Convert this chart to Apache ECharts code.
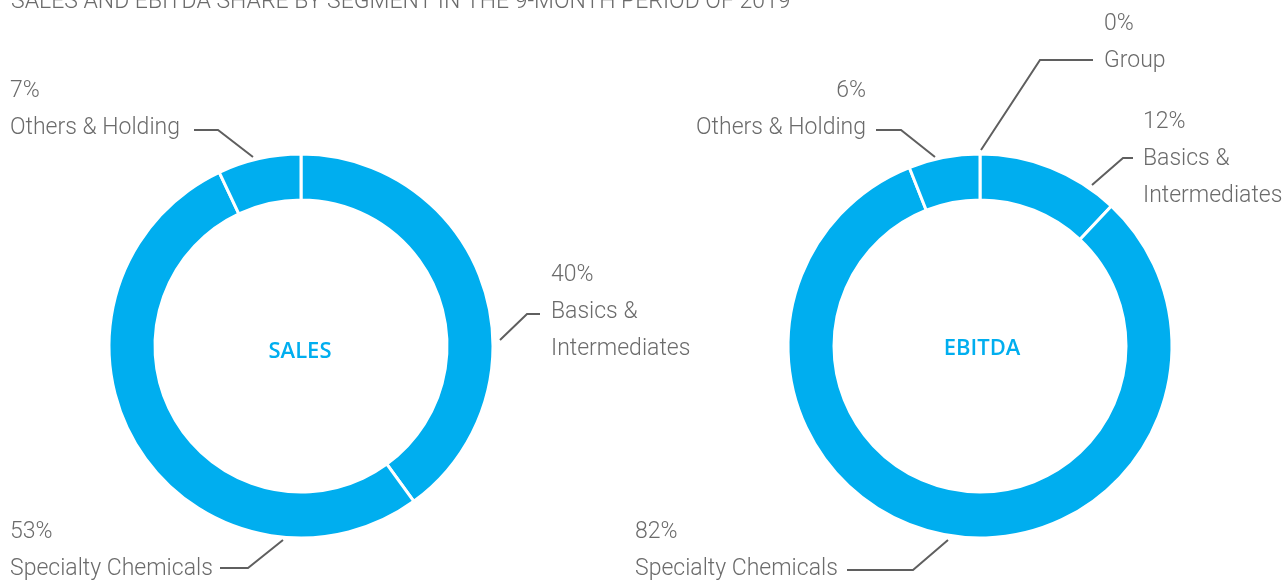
<!DOCTYPE html>
<html>
<head>
<meta charset="utf-8">
<script src="https://cdn.jsdelivr.net/npm/echarts@6/dist/echarts.min.js"></script>
<style>
  html, body { margin: 0; padding: 0; background: #fff; }
  #chart { width: 1285px; height: 582px; }
</style>
</head>
<body>
<div id="chart"></div>
<script>
// data
const chartTitle = 'SALES AND EBITDA SHARE BY SEGMENT IN THE 9-MONTH PERIOD OF 2019'
const salesNames = ['Basics & Intermediates', 'Specialty Chemicals', 'Others & Holding']
const salesValues = [40, 53, 7]
const ebitdaNames = ['Group', 'Basics & Intermediates', 'Specialty Chemicals', 'Others & Holding']
const ebitdaValues = [0, 12, 82, 6]

const blue = '#00aeef'
const grey = '#6b6b6b'

// label placement per slice: [x, firstLineY, align], leader line points
const labelPos = [
  [[551, 273, 'left'], [10, 530, 'left'], [10, 89, 'left']],
  [[1104, 22, 'left'], [1143, 120, 'left'], [635, 530, 'left'], [866, 89, 'right']]
]
const leaders = [
  [[[500, 340], [527, 314], [540, 314]],
   [[283, 540], [248, 568], [220, 568]],
   [[253, 157], [218, 130], [194, 130]]],
  [[[981, 150], [1040, 60], [1093, 60]],
   [[1092, 185], [1123, 158], [1133, 158]],
   [[948, 540], [913, 570], [847, 570]],
   [[935, 157], [901, 130], [876, 130]]]
]

const lineH = 37

const toData = (names, values) => names.map((n, i) => ({ name: n, value: values[i] }))

const pieSeries = (idx, center, data) => ({
  type: 'pie',
  center: center,
  radius: [146, 192],
  startAngle: 90,
  clockwise: true,
  avoidLabelOverlap: false,
  minShowLabelAngle: 0,
  silent: true,
  itemStyle: { color: blue, borderColor: '#fff', borderWidth: 3 },
  label: {
    show: true,
    color: grey,
    fontFamily: 'Roboto',
    fontWeight: 300,
    fontSize: 23,
    lineHeight: lineH,
    formatter: p => p.value + '%\n' + p.name.replace('Basics & ', 'Basics &\n')
  },
  labelLine: { show: true, lineStyle: { color: '#5f5f5f', width: 2 } },
  labelLayout: function (params) {
    const pos = labelPos[idx][params.dataIndex]
    return {
      x: pos[0],
      y: pos[1] + 2 - lineH / 2,
      align: pos[2],
      verticalAlign: 'top',
      labelLinePoints: leaders[idx][params.dataIndex]
    }
  },
  data: data
})

var myChart = echarts.init(document.getElementById('chart'))
var option = {
  animation: false,
  title: {
    text: chartTitle,
    left: 6,
    top: -14,
    textStyle: { color: grey, fontFamily: 'Roboto', fontWeight: 300, fontSize: 23 }
  },
  graphic: [
    { type: 'text', x: 300, y: 352, style: { text: 'SALES', fill: blue, font: '600 22px "Open Sans"', textAlign: 'center', textVerticalAlign: 'middle' } },
    { type: 'text', x: 982, y: 349, style: { text: 'EBITDA', fill: blue, font: '600 22px "Open Sans"', textAlign: 'center', textVerticalAlign: 'middle' } }
  ],
  series: [
    pieSeries(0, [301, 346], toData(salesNames, salesValues)),
    pieSeries(1, [980, 346], toData(ebitdaNames, ebitdaValues))
  ]
}
myChart.setOption(option)
</script>
</body>
</html>
